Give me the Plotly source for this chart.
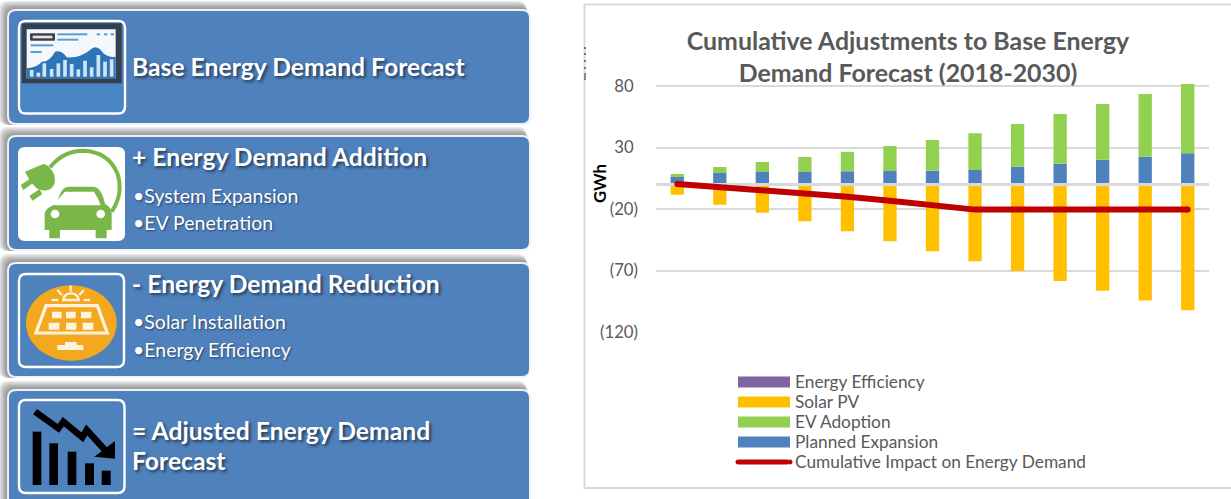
import re
import plotly.graph_objects as go

W, H = 1231, 499

# Chart data (GWh)
years = list(range(2018, 2031))
planned_expansion = [6, 9.3, 10, 10, 10.6, 10.9, 11.1, 11.7, 14.4, 16.8, 20, 22.5, 25.3]
ev_adoption = [2.5, 4.8, 8.2, 12.3, 16, 20.3, 25, 29.8, 34.7, 40.4, 45.4, 51, 56.3]
solar_pv = [-8.4, -16.5, -23, -30, -38.1, -46.2, -54.3, -62.4, -70.5, -78.6, -86.5, -94.4, -102.4]
energy_efficiency = [0] * 13
cumulative_impact = [0.4, -2, -4, -6.7, -10, -13.3, -16.7, -20.5, -20.5, -20.5, -20.5, -20.5, -20.5]
tick_values = [-120, -70, -20, 30, 80]
tick_labels = ["(120)", "(70)", "(20)", "30\u00a0", "80\u00a0"]

# Left-hand panel texts
panel_titles = [
    ("Base Energy Demand Forecast", 66),
    ("+ Energy Demand Addition", 156.5),
    ("- Energy Demand Reduction", 283.5),
    ("= Adjusted Energy Demand", 430),
    ("Forecast", 460),
]
panel_bullets = [
    ("•System Expansion", 195.5),
    ("•EV Penetration", 222.5),
    ("•Solar Installation", 321),
    ("•Energy Efficiency", 349),
]

BLUE, GREEN, GOLD, PURPLE, RED = "#4f81bd", "#92d050", "#ffc000", "#8064a2", "#c00000"
GRID, MUTED = "#d9d9d9", "#595959"
FONT = "Lato"

legend_rows = [
    ("Energy Efficiency", PURPLE, 382),
    ("Solar PV", GOLD, 402),
    ("EV Adoption", GREEN, 422),
    ("Planned Expansion", BLUE, 442),
    ("Cumulative Impact on Energy Demand", RED, 462),
]

shapes = []


def to_paper(path, ox=0.0, oy=0.0, scale=1.0):
    """Convert an absolute pixel path (M/L/Q/C/Z) into paper coordinates."""
    out, is_x = [], True
    for tok in re.findall(r"[MLQCZ]|-?\d+\.?\d*", path):
        if tok in "MLQCZ":
            out.append(tok)
            is_x = True
        elif is_x:
            out.append(f"{(ox + float(tok) * scale) / W:.5f}")
            is_x = False
        else:
            out.append(f"{1 - (oy + float(tok) * scale) / H:.5f}")
            is_x = True
    s = ""
    for t in out:
        s += t if t in "MLQCZ" else (t + " ")
    return s


def add_path(path, fill="rgba(0,0,0,0)", line=None, lw=0, ox=0.0, oy=0.0, scale=1.0, layer="below"):
    shapes.append(dict(
        type="path", xref="paper", yref="paper", layer=layer,
        path=to_paper(path, ox, oy, scale), fillcolor=fill,
        line=dict(color=line or "rgba(0,0,0,0)", width=lw),
    ))


def round_rect(x0, y0, x1, y1, r):
    return (f"M{x0 + r} {y0} L{x1 - r} {y0} Q{x1} {y0} {x1} {y0 + r} L{x1} {y1 - r} "
            f"Q{x1} {y1} {x1 - r} {y1} L{x0 + r} {y1} Q{x0} {y1} {x0} {y1 - r} "
            f"L{x0} {y0 + r} Q{x0} {y0} {x0 + r} {y0} Z")


def ellipse(cx, cy, rx, ry):
    k = 0.5523
    return (f"M{cx - rx} {cy} C{cx - rx} {cy - k * ry} {cx - k * rx} {cy - ry} {cx} {cy - ry} "
            f"C{cx + k * rx} {cy - ry} {cx + rx} {cy - k * ry} {cx + rx} {cy} "
            f"C{cx + rx} {cy + k * ry} {cx + k * rx} {cy + ry} {cx} {cy + ry} "
            f"C{cx - k * rx} {cy + ry} {cx - rx} {cy + k * ry} {cx - rx} {cy} Z")


def rect(x0, y0, x1, y1):
    return f"M{x0} {y0} L{x1} {y0} L{x1} {y1} L{x0} {y1} Z"


# Panel backgrounds with a soft shadow on the top and left edges
for top, bottom in [(10, 124), (136, 250), (263, 377), (390, 506)]:
    for i in range(7, 0, -1):
        grow = i * 1.3
        add_path(round_rect(8 - grow, top - grow, 530 - grow * 0.4, bottom + 1, 9),
                 fill="rgba(60,60,60,0.1)")
    add_path(round_rect(8, top, 530, bottom, 8), fill=BLUE, line="#eef3f9", lw=2)

# Icon frames
add_path(round_rect(19, 21, 125, 113.5, 7), line="white", lw=2.4)
add_path(round_rect(18, 147, 125, 241, 7), fill="white")
add_path(round_rect(19, 274, 124, 367, 7), line="white", lw=2.4)
add_path(round_rect(19, 400, 124.5, 493, 7), line="white", lw=2.4)

# Dashboard icon, drawn in a 3x grid
add_path(rect(66, 250, 364, 335), fill="#4a86c6", scale=1 / 3)
add_path(rect(65, 70, 365, 250), fill="#33414f", scale=1 / 3)
add_path(rect(80, 88, 347, 235), fill="#f4f8fc", scale=1 / 3)
add_path("M80 205 Q115 200 125 185 Q150 185 165 155 Q185 150 200 172 Q240 175 270 150 Q290 130 310 160 "
         "Q330 175 347 170 L347 235 L80 235 Z", fill="#2d75b8", scale=1 / 3)
dash_bars = [(95, 210), (115, 218), (133, 190), (155, 207), (175, 190), (195, 180), (215, 192),
             (235, 208), (255, 182), (275, 202), (295, 165), (315, 185), (335, 178)]
for bx, by in dash_bars:
    add_path(rect(bx - 5.5, by, bx + 5.5, 230), fill="#cfe4f6", scale=1 / 3)
add_path(round_rect(90, 100, 165, 122, 3), fill="#3c3f45", scale=1 / 3)
add_path(rect(98, 107, 157, 115), fill="#e5e5e5", scale=1 / 3)
for x0, y0, x1, y1 in [(172, 100, 262, 106), (172, 116, 235, 122), (92, 133, 160, 139), (92, 153, 125, 159),
                       (290, 100, 300, 106), (312, 100, 322, 106), (332, 100, 342, 106)]:
    add_path(rect(x0, y0, x1, y1), fill="#5e9bd3", scale=1 / 3)

# Plug and car icon
G = "#7ab648"
Y2 = 130
add_path("M150 112 Q190 62 250 62 Q325 65 352 130 Q372 190 335 245", line=G, lw=4, oy=Y2, scale=1 / 3)
add_path("M75 125 L130 102 Q150 105 163 135 Q170 165 150 178 Q135 185 115 178 Q95 165 75 125 Z",
         fill=G, oy=Y2, scale=1 / 3)
add_path("M62 165 L90 146 L98 160 L70 180 Z", fill=G, oy=Y2, scale=1 / 3)
add_path("M88 198 L118 178 L127 192 L98 212 Z", fill=G, oy=Y2, scale=1 / 3)
add_path("M172 222 Q180 172 205 170 L280 170 Q305 172 315 222 Q335 232 335 250 L335 300 L320 300 L320 325 "
         "L287 325 L287 300 L180 300 L180 325 L148 325 L148 300 L134 300 L134 250 Q136 232 172 222 Z",
         fill=G, oy=Y2, scale=1 / 3)
add_path("M195 185 L282 185 Q295 205 302 226 L165 226 Q178 200 195 185 Z", fill="white", oy=Y2, scale=1 / 3)
add_path(ellipse(165, 252, 13, 13), fill="white", oy=Y2, scale=1 / 3)
add_path(ellipse(302, 252, 13, 13), fill="white", oy=Y2, scale=1 / 3)

# Solar panel icon
Y3 = 255
add_path(ellipse(214, 204, 136, 113), fill="#f4a81d", oy=Y3, scale=1 / 3)
add_path("M190 135 Q192 115 212 115 Q234 115 236 135 Z", line="#fdf3df", lw=2.4, oy=Y3, scale=1 / 3)
for ray in ["M212 110 L212 92", "M186 120 L172 105", "M238 120 L252 105", "M175 135 L155 135", "M250 135 L270 135"]:
    add_path(ray, line="#fdf3df", lw=2.2, oy=Y3, scale=1 / 3)
add_path("M138 152 L292 152 L322 234 L108 234 Z", line="#fdf3df", lw=3.2, oy=Y3, scale=1 / 3)
for cx0, cx1, cy0, cy1 in [(156, 185, 170, 190), (198, 227, 170, 190), (243, 274, 170, 190),
                           (146, 178, 203, 224), (198, 229, 203, 224), (248, 280, 203, 224)]:
    add_path(round_rect(cx0, cy0, cx1, cy1, 2), fill="#fdf3df", oy=Y3, scale=1 / 3)
add_path(rect(172, 270, 250, 285), fill="#fdf3df", oy=Y3, scale=1 / 3)
add_path(rect(195, 261, 230, 270), fill="#fdf3df", oy=Y3, scale=1 / 3)

# Declining bars icon
Y4 = 380
for x0, x1, y0 in [(98, 124, 155), (148, 174, 190), (203, 229, 215), (255, 282, 250), (305, 332, 272)]:
    add_path(rect(x0, y0, x1, 315), fill="black", oy=Y4, scale=1 / 3)
add_path("M105 95 L175 145 L190 125 L247 172 L260 150 L315 210", line="black", lw=6.5, oy=Y4, scale=1 / 3)
add_path("M345 183 L345 236 L283 230 Z", fill="black", oy=Y4, scale=1 / 3)

# Chart card
shapes.append(dict(type="rect", xref="paper", yref="paper", layer="below",
                   x0=584.5 / W, x1=1240 / W, y0=1 - 488 / H, y1=1 - 4.5 / H,
                   fillcolor="white", line=dict(color=GRID, width=2)))
for dy in [47, 53, 60, 67]:
    add_path(rect(584, dy, 586, dy + 2), fill="#777777")
add_path(rect(584, 73, 586, 80), fill="#888888")

fig = go.Figure()

# Stacked columns: positive adjustments stack up, reductions stack down
column_series = [
    ("Planned Expansion", planned_expansion, BLUE),
    ("EV Adoption", ev_adoption, GREEN),
    ("Solar PV", solar_pv, GOLD),
    ("Energy Efficiency", energy_efficiency, PURPLE),
]
for name, vals, color in column_series:
    fig.add_trace(go.Bar(x=years, y=vals, name=name, marker=dict(color=color, line=dict(width=0))))

# The category axis sits on top of the columns and below the impact line
fig.add_trace(go.Scatter(x=[2017.5, 2030.5], y=[0, 0], mode="lines", hoverinfo="skip",
                         line=dict(color=GRID, width=3)))

fig.add_trace(go.Scatter(x=years, y=cumulative_impact, mode="lines", name="Cumulative Impact on Energy Demand",
                         line=dict(color=RED, width=6, shape="linear")))
# Rounded ends for the impact line
fig.add_trace(go.Scatter(x=[years[0], years[-1]], y=[cumulative_impact[0], cumulative_impact[-1]], mode="markers",
                         hoverinfo="skip", marker=dict(color=RED, size=6)))

annotations = []
for text, y in panel_titles:
    annotations.append(dict(text=f"<b>{text}</b>", xref="paper", yref="paper", x=130 / W, y=1 - y / H,
                            xanchor="left", yanchor="middle", showarrow=False,
                            font=dict(family=FONT, size=24.7, color="white", shadow="2px 2px 3px rgba(0,0,0,0.55)")))
for text, y in panel_bullets:
    annotations.append(dict(text=text, xref="paper", yref="paper", x=131 / W, y=1 - y / H,
                            xanchor="left", yanchor="middle", showarrow=False,
                            font=dict(family=FONT, size=19.5, color="white", shadow="1px 1px 2px rgba(0,0,0,0.5)")))
annotations.append(dict(text="<b>GWh</b>", xref="paper", yref="paper", x=600 / W, y=1 - 184 / H, textangle=-90,
                        xanchor="center", yanchor="middle", showarrow=False,
                        font=dict(family=FONT, size=16.8, color="black")))

# Legend: block keys for the columns, a rounded stroke for the impact line
for name, color, y in legend_rows:
    if color == RED:
        add_path(f"M739 {y} L788 {y}", line=RED, lw=5)
        add_path(ellipse(738, y, 2.5, 2.5), fill=RED)
        add_path(ellipse(790, y, 2.5, 2.5), fill=RED)
    else:
        add_path(rect(738, y - 5.5, 790, y + 5.5), fill=color)
    annotations.append(dict(text=name, xref="paper", yref="paper", x=793 / W, y=1 - (y - 1) / H,
                            xanchor="left", yanchor="middle", showarrow=False,
                            font=dict(family=FONT, size=17.3, color=MUTED)))

# Pixel scale of the value axis: 50 GWh spans 61.5 px, 80 sits at y=86
y_top_value = 85
y_bottom_value = -120
px_top = 86 - (y_top_value - 80) * 61.5 / 50
px_bottom = 86 + (80 - y_bottom_value) * 61.5 / 50

fig.update_layout(
    template="none",
    width=W, height=H, autosize=False,
    margin=dict(l=0, r=0, t=0, b=0, pad=0),
    paper_bgcolor="white", plot_bgcolor="rgba(0,0,0,0)",
    barmode="relative", bargap=0.687, showlegend=False,
    font=dict(family=FONT, color=MUTED),
    title=dict(text="<b>Cumulative Adjustments to Base Energy<br>Demand Forecast (2018-2030)</b>",
               x=908 / W, xanchor="center", y=1 - 50 / H, yanchor="middle",
               font=dict(family=FONT, size=24.9, color=MUTED)),
    shapes=shapes, annotations=annotations,
    xaxis=dict(domain=[656 / W, 1209 / W], range=[2017.5, 2030.5], visible=False, automargin=False),
    yaxis=dict(domain=[1 - px_bottom / H, 1 - px_top / H], range=[y_bottom_value, y_top_value],
               automargin=False, tickmode="array", tickvals=tick_values, ticktext=tick_labels,
               showgrid=True, gridcolor=GRID, gridwidth=2, zeroline=False, showline=False, ticks="",
               ticklabelstandoff=17, tickfont=dict(family=FONT, size=16.7, color=MUTED)),
)

fig.write_html("out.html", config={"displayModeBar": False})
